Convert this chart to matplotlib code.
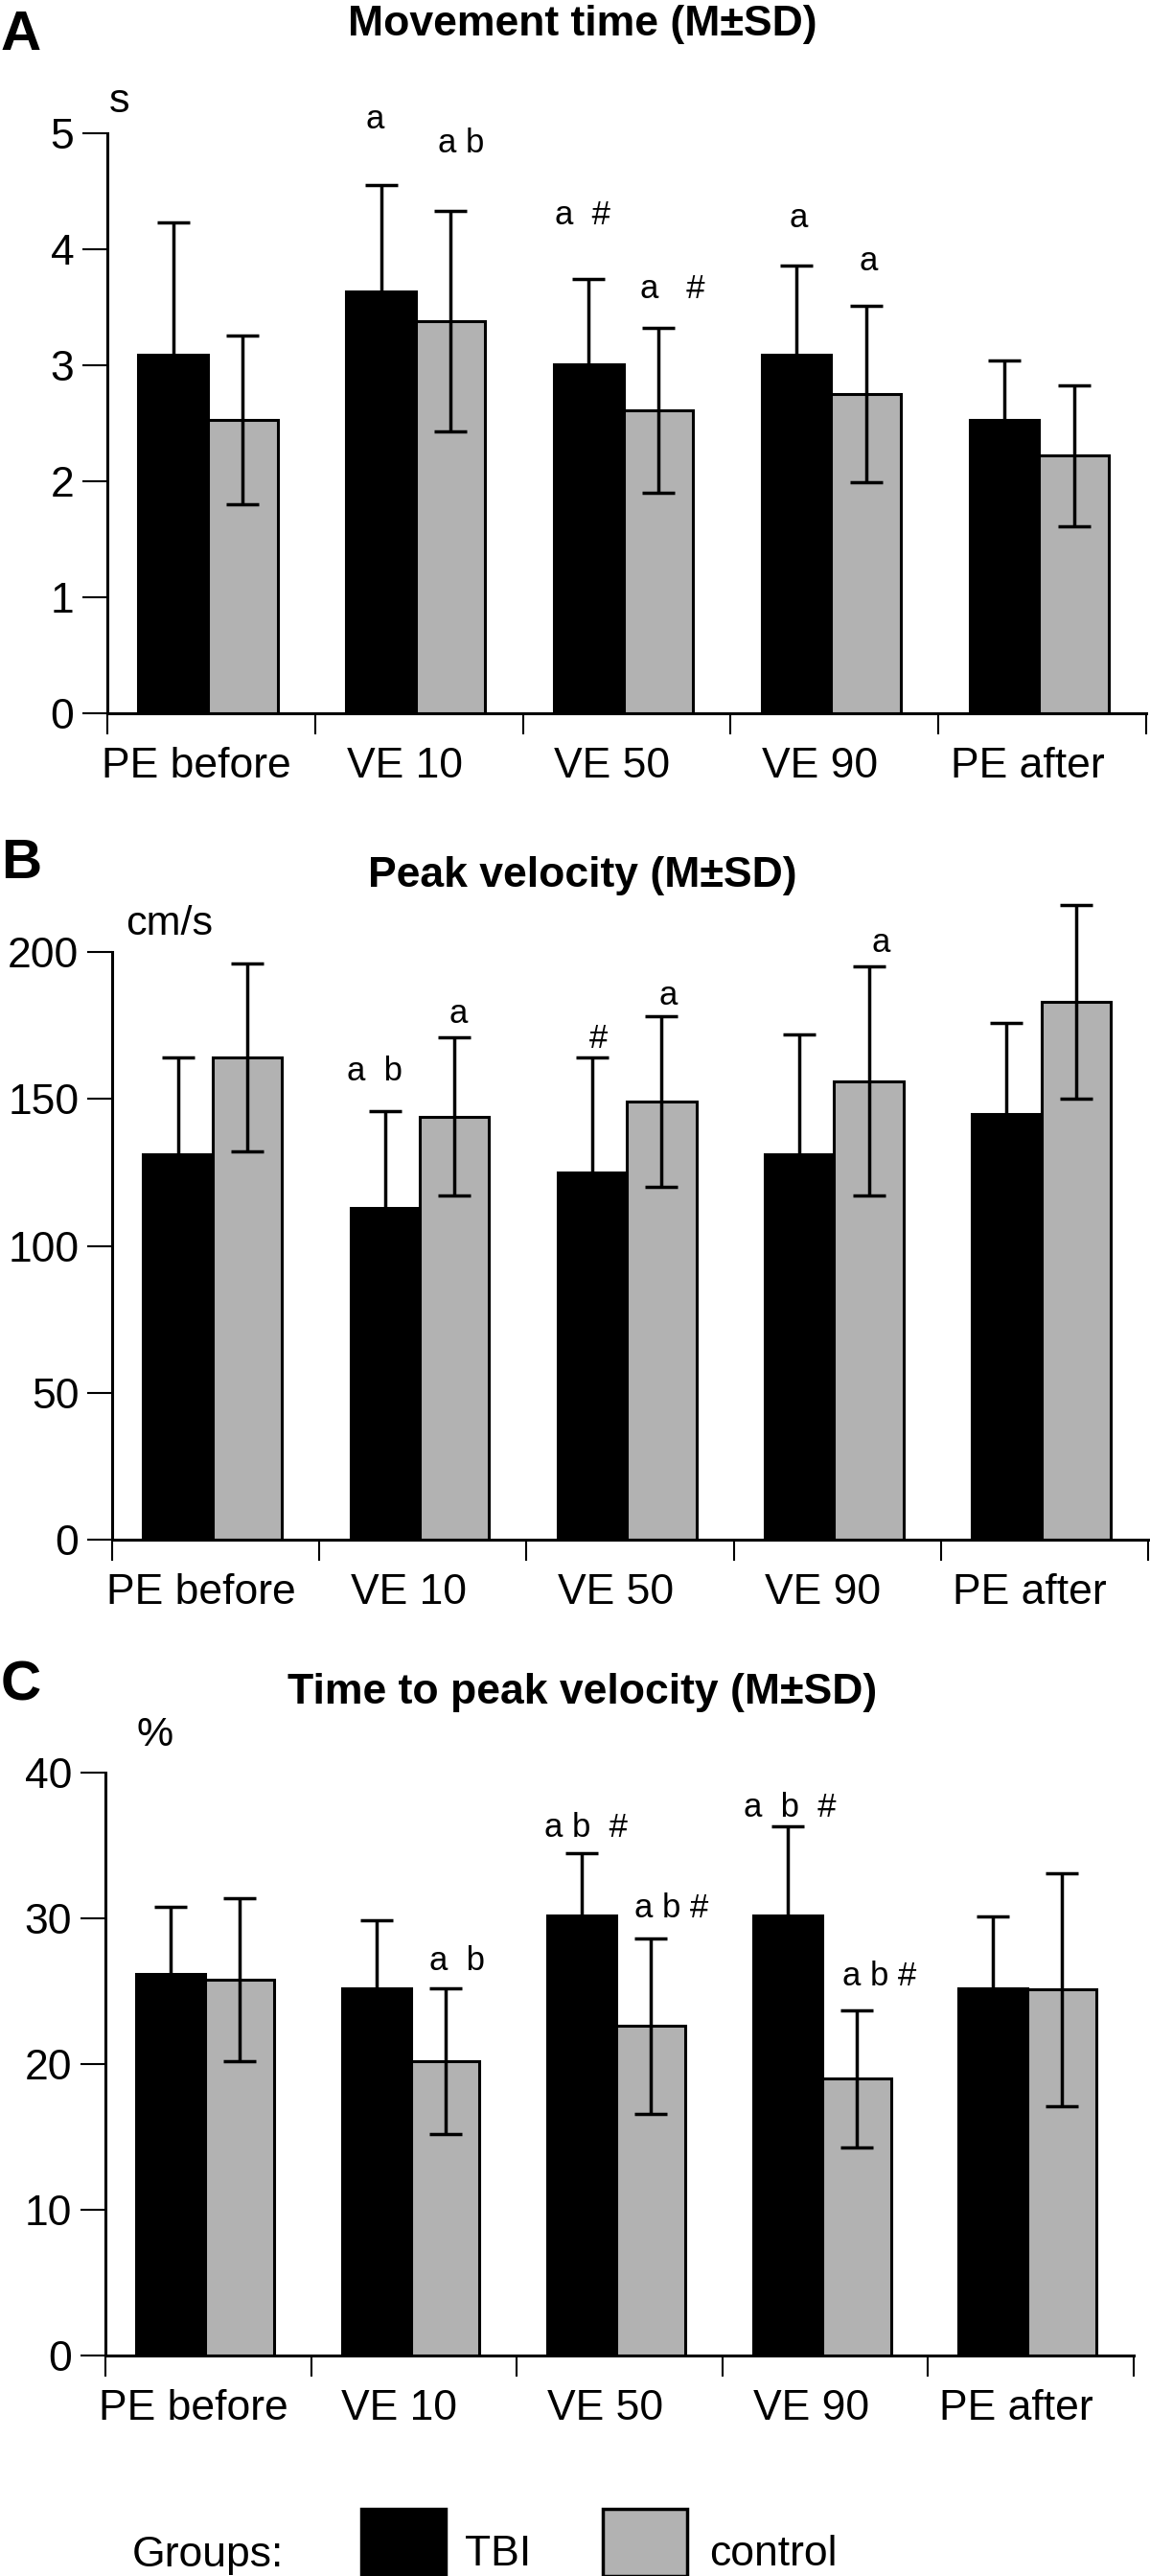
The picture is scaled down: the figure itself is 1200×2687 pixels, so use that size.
import numpy as np
import matplotlib
matplotlib.use("Agg")
import matplotlib.pyplot as plt
from matplotlib.patches import Rectangle

plt.rcParams['font.family'] = ['Liberation Sans', 'DejaVu Sans']

conditions = ["PE before", "VE 10", "VE 50", "VE 90", "PE after"]
groups = ["TBI", "control"]

# A: movement time (s)
mt_tbi = [3.09, 3.64, 3.01, 3.09, 2.53]
mt_tbi_sd = [1.14, 0.91, 0.73, 0.77, 0.51]
mt_ctl = [2.53, 3.38, 2.61, 2.75, 2.22]
mt_ctl_sd = [0.73, 0.95, 0.71, 0.76, 0.61]

# B: peak velocity (cm/s)
pv_tbi = [131, 113, 125, 131, 145]
pv_tbi_sd = [33, 33, 39, 41, 31]
pv_ctl = [164, 144, 149, 156, 183]
pv_ctl_sd = [32, 27, 29, 39, 33]

# C: time to peak velocity (%)
tp_tbi = [26.2, 25.2, 30.2, 30.2, 25.2]
tp_tbi_sd = [4.6, 4.7, 4.3, 6.1, 4.9]
tp_ctl = [25.8, 20.2, 22.6, 19.0, 25.1]
tp_ctl_sd = [5.6, 5.0, 6.0, 4.7, 8.0]

# significance marks: (condition index, group index, text, height)
mt_marks = [(1, 0, "a", 5.12), (1, 1, "a b", 4.91), (2, 0, "a  #", 4.29),
            (2, 1, "a   #", 3.66), (3, 0, "a", 4.27), (3, 1, "a", 3.90)]
pv_marks = [(1, 0, "a  b", 159.5), (1, 1, "a", 179), (2, 0, "#", 170.6),
            (2, 1, "a", 185), (3, 1, "a", 203)]
tp_marks = [(1, 1, "a  b", 27.1), (2, 0, "a b  #", 36.2), (2, 1, "a b #", 30.7),
            (3, 0, "a  b  #", 37.6), (3, 1, "a b #", 26.0)]
# small sideways nudges of the marks
mt_nudge = [-0.03, 0.05, -0.03, 0.07, 0.01, 0.01]
pv_nudge = [-0.05, 0.02, 0.03, 0.03, 0.06]
tp_nudge = [0.06, 0.02, 0.10, 0.01, 0.11]

W, H = 1200, 2687
fig = plt.figure(figsize=(W / 100, H / 100), dpi=100)

def px(x0, y0, x1, y1):
    return [x0 / W, 1 - y1 / H, (x1 - x0) / W, (y1 - y0) / H]

panels = [
    (px(112, 139, 1196, 744), mt_tbi, mt_tbi_sd, mt_ctl, mt_ctl_sd, 5, [0, 1, 2, 3, 4, 5], mt_marks, mt_nudge,
     "A", (22, 37), "Movement time (M±SD)", 26, "s", (125, 106)),
    (px(117, 993, 1198, 1606), pv_tbi, pv_tbi_sd, pv_ctl, pv_ctl_sd, 200, [0, 50, 100, 150, 200], pv_marks, pv_nudge,
     "B", (22, 901), "Peak velocity (M±SD)", 913, "cm/s", (177, 964)),
    (px(110, 1849, 1183, 2457), tp_tbi, tp_tbi_sd, tp_ctl, tp_ctl_sd, 40, [0, 10, 20, 30, 40], tp_marks, tp_nudge,
     "C", (22, 1758), "Time to peak velocity (M±SD)", 1766, "%", (162, 1810)),
]

colors = ["black", "#b2b2b2"]
bw = 0.335
offs = [0.317, 0.652]

for (rect, tbi, tbi_sd, ctl, ctl_sd, ymax, yt, marks, nudge,
     letter, lpos, title, ty, unit, upos) in panels:
    ax = fig.add_axes(rect)
    x = np.arange(len(conditions))
    for g, (vals, sds) in enumerate([(tbi, tbi_sd), (ctl, ctl_sd)]):
        ax.bar(x + offs[g], vals, bw, color=colors[g], edgecolor="black", linewidth=2.2, zorder=2)
        ax.errorbar(x + offs[g], vals, yerr=sds, fmt="none", ecolor="black", elinewidth=2.5,
                    capsize=12, capthick=2.5, clip_on=False, zorder=3)
    for (ci, g, txt, yv), dx in zip(marks, nudge):
        ax.text(ci + offs[g] + dx, yv, txt, ha="center", va="center", fontsize=25)
    ax.set_xlim(0, 5)
    ax.set_ylim(0, ymax)
    ax.set_yticks(yt)
    ax.set_xticks(range(6))
    ax.set_xticklabels([])
    ax.set_xticks(x + 0.43, minor=True)
    ax.set_xticklabels(conditions, minor=True)
    for s in ["top", "right"]:
        ax.spines[s].set_visible(False)
    for s in ["left", "bottom"]:
        ax.spines[s].set_linewidth(2.2)
    ax.tick_params(axis="y", length=19, width=1.5, pad=6, labelsize=32)
    ax.tick_params(axis="x", which="major", length=16, width=1.5)
    ax.tick_params(axis="x", which="minor", length=0, pad=25, labelsize=32)
    fig.text(lpos[0] / W, 1 - lpos[1] / H, letter, fontsize=42, fontweight="bold",
             ha="center", va="center")
    fig.text(608 / W, 1 - ty / H, title, fontsize=32, fontweight="bold", ha="center", va="center")
    fig.text(upos[0] / W, 1 - upos[1] / H, unit, fontsize=31, ha="center", va="center")

# legend
fig.text(138 / W, 1 - 2665 / H, "Groups:", fontsize=32, ha="left", va="center")
for g, (x0, tx) in enumerate([(377, 485), (629, 740)]):
    fig.add_artist(Rectangle((x0 / W, 0), 88 / W, 70 / H, transform=fig.transFigure,
                             facecolor=colors[g], edgecolor="black", linewidth=2.5))
    fig.text(tx / W, 1 - 2665 / H, groups[g], fontsize=32, ha="left", va="center")

fig.savefig("out.png", dpi=100)
